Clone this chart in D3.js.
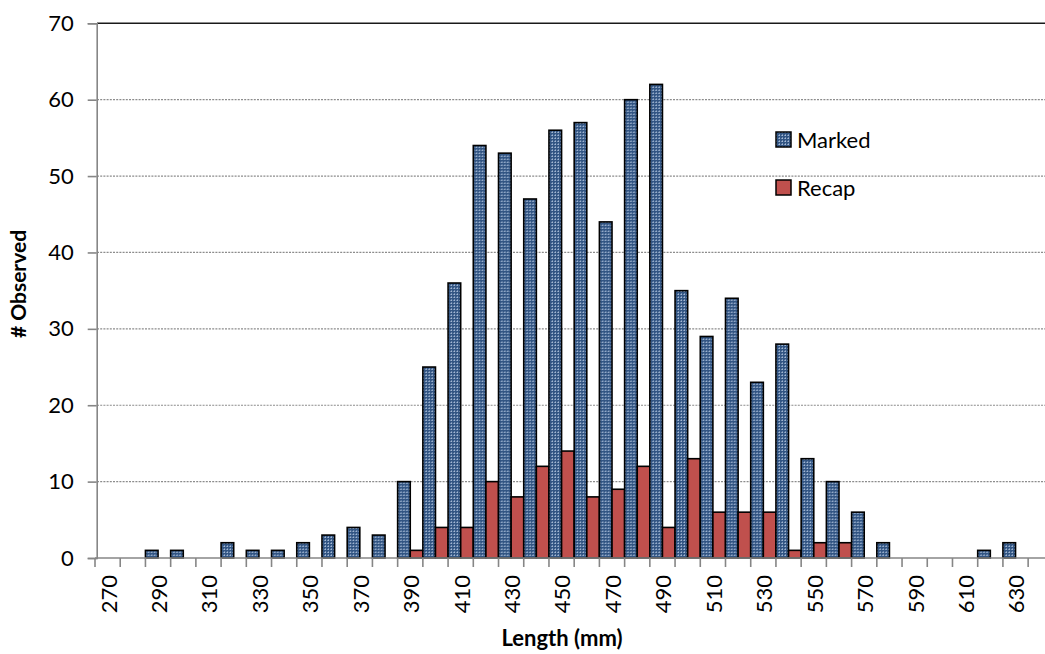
<!DOCTYPE html>
<html>
<head>
<meta charset="utf-8">
<script src="https://cdn.jsdelivr.net/npm/d3@7"></script>
<style>
  body { margin: 0; background: #fff; }
  svg { display: block; }
  text { font-family: Lato, "Open Sans", sans-serif; fill: #000; }
</style>
</head>
<body>
<svg id="chart"></svg>
<script>
// Data ----------
const lengths = [270, 280, 290, 300, 310, 320, 330, 340, 350, 360, 370, 380, 390, 400, 410, 420, 430, 440, 450,
                 460, 470, 480, 490, 500, 510, 520, 530, 540, 550, 560, 570, 580, 590, 600, 610, 620, 630, 640];
const marked = [0, 0, 1, 1, 0, 2, 1, 1, 2, 3, 4, 3, 10, 25, 36, 54, 53, 47, 56,
                57, 44, 60, 62, 35, 29, 34, 23, 28, 13, 10, 6, 2, 0, 0, 0, 1, 2, 0];
const recap = [0, 0, 0, 0, 0, 0, 0, 0, 0, 0, 0, 0, 1, 4, 4, 10, 8, 12, 14,
               8, 9, 12, 4, 13, 6, 6, 6, 1, 2, 2, 0, 0, 0, 0, 0, 0, 0, 0];
const seriesNames = ["Marked", "Recap"];
const yTicks = [0, 10, 20, 30, 40, 50, 60, 70];
const xLabels = [270, 290, 310, 330, 350, 370, 390, 410, 430, 450, 470, 490, 510, 530, 550, 570, 590, 610, 630];

const W = 1045, H = 654;
const plotLeft = 95, plotTop = 23.3, plotBottom = 558;
const catW = 25.22;

const svg = d3.select("#chart").attr("width", W).attr("height", H);

// Patterned fill for the Marked series
const defs = svg.append("defs");
const pat = defs.append("pattern")
    .attr("id", "gridFill")
    .attr("width", 3).attr("height", 3)
    .attr("patternUnits", "userSpaceOnUse");
pat.append("rect").attr("width", 3).attr("height", 3).attr("fill", "#325583");
pat.append("rect").attr("x", 0).attr("y", 0).attr("width", 1).attr("height", 1).attr("fill", "#a8bcd6");
pat.append("rect").attr("x", 2).attr("y", 0).attr("width", 1).attr("height", 1).attr("fill", "#7590b5");
pat.append("rect").attr("x", 0).attr("y", 2).attr("width", 1).attr("height", 1).attr("fill", "#7590b5");

const colors = { Marked: "url(#gridFill)", Recap: "#c0504d" };

// Scales ----------
const x = d3.scaleBand()
    .domain(lengths)
    .range([plotLeft, plotLeft + catW * lengths.length])
    .paddingInner(0).paddingOuter(0);

const xSub = d3.scaleBand()
    .domain(seriesNames)
    .range([0, x.bandwidth()])
    .padding(0);

const y = d3.scaleLinear().domain([0, 70]).range([plotBottom, plotTop]);

// Gridlines ----------
svg.append("g")
    .selectAll("line")
    .data(yTicks.filter(t => t > 0 && t < 70))
    .enter()
    .append("line")
    .attr("x1", plotLeft + 2).attr("x2", W)
    .attr("y1", d => y(d)).attr("y2", d => y(d))
    .attr("stroke", "#8c8c8c")
    .attr("stroke-width", 1.2)
    .attr("stroke-dasharray", "2,1.2");

// top border line
svg.append("line")
    .attr("x1", plotLeft + 2).attr("x2", W)
    .attr("y1", y(70)).attr("y2", y(70))
    .attr("stroke", "#1a1a1a")
    .attr("stroke-width", 1.6);

// Bars ----------
const rows = lengths.map((len, i) => ({ len: len, Marked: marked[i], Recap: recap[i] }));

const groups = svg.append("g")
    .selectAll("g")
    .data(rows)
    .enter()
    .append("g")
    .attr("transform", d => `translate(${x(d.len)},0)`);

groups.selectAll("rect")
    .data(d => seriesNames.map(k => ({ key: k, value: d[k] })).filter(e => e.value > 0))
    .enter()
    .append("rect")
    .attr("x", d => xSub(d.key))
    .attr("y", d => y(d.value))
    .attr("width", xSub.bandwidth())
    .attr("height", d => y(0) - y(d.value))
    .attr("fill", d => colors[d.key])
    .attr("stroke", "#000")
    .attr("stroke-width", 1.6);

// Y axis ----------
const yAxis = svg.append("g")
    .attr("transform", `translate(${plotLeft + 1.7},0)`)
    .call(d3.axisLeft(y).tickValues(yTicks).tickSize(9).tickPadding(14));
yAxis.select(".domain").attr("stroke", "#868686").attr("stroke-width", 1.6);
yAxis.selectAll(".tick line").attr("stroke", "#868686").attr("stroke-width", 1.6);
yAxis.selectAll(".tick text")
    .style("font-family", "Lato, 'Open Sans', sans-serif")
    .style("font-size", "22px")
    .attr("fill", "#000");

// X axis ----------
const xAxisG = svg.append("g");
xAxisG.append("line")
    .attr("x1", plotLeft).attr("x2", W)
    .attr("y1", plotBottom).attr("y2", plotBottom)
    .attr("stroke", "#868686").attr("stroke-width", 1.6);

const boundaries = lengths.map(d => x(d)).concat([x.range()[1]]);
xAxisG.selectAll("line.tk")
    .data(boundaries)
    .enter()
    .append("line")
    .attr("class", "tk")
    .attr("x1", d => d).attr("x2", d => d)
    .attr("y1", plotBottom).attr("y2", plotBottom + 9)
    .attr("stroke", "#868686").attr("stroke-width", 1.6);

xAxisG.selectAll("text")
    .data(xLabels)
    .enter()
    .append("text")
    .attr("transform", d => `translate(${x(d) + x.bandwidth() / 2 + 1},575) rotate(-90)`)
    .attr("text-anchor", "end")
    .attr("dy", "0.36em")
    .style("font-size", "22px")
    .text(d => d);

// Axis titles ----------
svg.append("text")
    .attr("x", 562).attr("y", 646)
    .attr("text-anchor", "middle")
    .style("font-size", "22px")
    .style("font-weight", "bold")
    .text("Length (mm)");

svg.append("text")
    .attr("transform", "translate(26,284) rotate(-90)")
    .attr("text-anchor", "middle")
    .style("font-size", "21px")
    .style("font-weight", "bold")
    .text("# Observed");

// Legend ----------
const legend = svg.append("g")
    .selectAll("g")
    .data(seriesNames)
    .enter()
    .append("g")
    .attr("transform", (d, i) => `translate(776,${132 + i * 48})`);

legend.append("rect")
    .attr("width", 15).attr("height", 15)
    .attr("fill", d => colors[d])
    .attr("stroke", "#000")
    .attr("stroke-width", 1.5);

legend.append("text")
    .attr("x", 21).attr("y", 15.5)
    .style("font-size", "22px")
    .text(d => d);
</script>
</body>
</html>
